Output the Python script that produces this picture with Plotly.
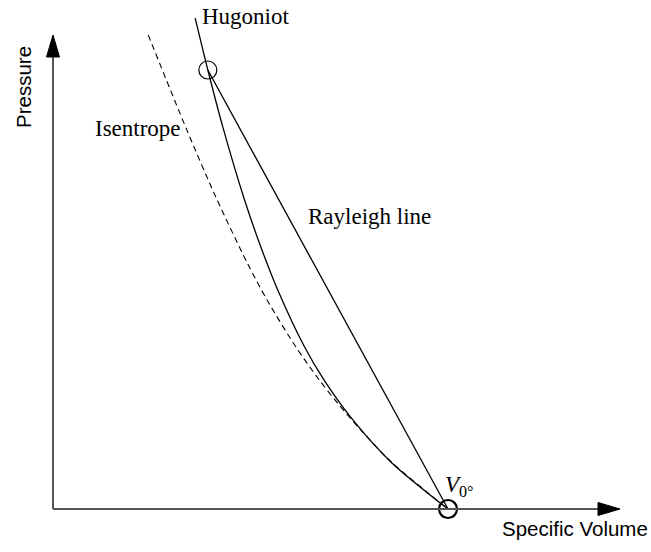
import plotly.graph_objects as go

# values (V0 = 1, Hugoniot state pressure = 1)
hugoniot_v = [0.360, 0.392, 0.430, 0.485, 0.529, 0.569, 0.637, 0.686, 0.753, 0.858, 1.0]
hugoniot_p = [1.118, 1.000, 0.870, 0.704, 0.590, 0.499, 0.369, 0.294, 0.210, 0.105, 0.0]

isentrope_v = [0.241, 0.339, 0.412, 0.492, 0.542, 0.615, 0.674, 0.718, 0.779, 0.859, 1.0]
isentrope_p = [1.080, 0.863, 0.711, 0.560, 0.476, 0.369, 0.294, 0.244, 0.180, 0.105, 0.0]

# Rayleigh line: from the initial state V0 to the shocked state on the Hugoniot
rayleigh_v = [0.392, 1.0]
rayleigh_p = [1.0, 0.0]

W, H = 651, 552
# pixel layout of the axes origin and scale
x0_px, y0_px = 53, 509
sx, sy = 395, 439

def to_data(px, py):
    return (px - x0_px) / sx, (y0_px - py) / sy

x_lo, _ = to_data(0, 0)
x_hi, _ = to_data(W, 0)
_, y_hi = to_data(0, 0)
_, y_lo = to_data(0, H)

fig = go.Figure()

fig.add_trace(go.Scatter(
    x=isentrope_v, y=isentrope_p, mode="lines",
    line=dict(color="black", width=1.1, dash="6px,4px", shape="spline", smoothing=0.8),
    hoverinfo="skip"
))
fig.add_trace(go.Scatter(
    x=hugoniot_v, y=hugoniot_p, mode="lines",
    line=dict(color="black", width=1.3, shape="spline", smoothing=0.8),
    hoverinfo="skip"
))
fig.add_trace(go.Scatter(
    x=rayleigh_v, y=rayleigh_p, mode="lines",
    line=dict(color="black", width=1.3),
    hoverinfo="skip"
))

# shocked state and initial state markers
fig.add_trace(go.Scatter(
    x=rayleigh_v[:1], y=rayleigh_p[:1], mode="markers",
    marker=dict(symbol="circle-open", size=18, color="black", line=dict(width=1.2)),
    hoverinfo="skip"
))
fig.add_trace(go.Scatter(
    x=rayleigh_v[1:], y=rayleigh_p[1:], mode="markers",
    marker=dict(symbol="circle-open", size=18, color="black", line=dict(width=2.2)),
    hoverinfo="skip"
))

# axes with arrowheads
axis_col = "#555555"
tx, ty = to_data(53, 35)
fig.add_shape(type="line", x0=0, y0=0, x1=0, y1=to_data(0, 50)[1],
              line=dict(color=axis_col, width=2))
bx, by = to_data(620, 509)
fig.add_shape(type="line", x0=0, y0=0, x1=to_data(605, 0)[0], y1=0,
              line=dict(color=axis_col, width=2))

hw_v = 6.5 / sx
hw_p = 6.5 / sy
base_p = to_data(0, 57)[1]
fig.add_shape(type="path",
              path=f"M {-hw_v} {base_p} L 0 {ty} L {hw_v} {base_p} Z",
              fillcolor="black", line=dict(color="black", width=1))
base_v = to_data(598, 0)[0]
fig.add_shape(type="path",
              path=f"M {base_v} {-hw_p} L {bx} 0 L {base_v} {hw_p} Z",
              fillcolor="black", line=dict(color="black", width=1))

serif = "Liberation Serif"
sans = "Liberation Sans"

def label(px, py, text, family, size, anchor="left", angle=0):
    x, y = to_data(px, py)
    fig.add_annotation(x=x, y=y, text=text, showarrow=False, xanchor=anchor,
                       yanchor="middle", textangle=angle,
                       font=dict(family=family, size=size, color="black"))

label(200, 16, "Hugoniot", serif, 23)
label(93, 128, "Isentrope", serif, 23)
label(306, 216, "Rayleigh line", serif, 23)
label(443, 486, "<i>V</i><sub>0°</sub>", serif, 23)
label(23, 87, "Pressure", sans, 20.5, anchor="center", angle=-90)
label(575, 528, "Specific Volume", sans, 20.5, anchor="center")

fig.update_xaxes(range=[x_lo, x_hi], visible=False, fixedrange=True)
fig.update_yaxes(range=[y_lo, y_hi], visible=False, fixedrange=True)
fig.update_layout(
    width=W, height=H, autosize=False,
    margin=dict(l=0, r=0, t=0, b=0, pad=0),
    paper_bgcolor="white", plot_bgcolor="white",
    showlegend=False,
)

# drop the browser's default body margin so the figure sits at the page corner
fig.write_html("out.html", config={"displayModeBar": False},
               post_script="document.body.style.margin='0';")
